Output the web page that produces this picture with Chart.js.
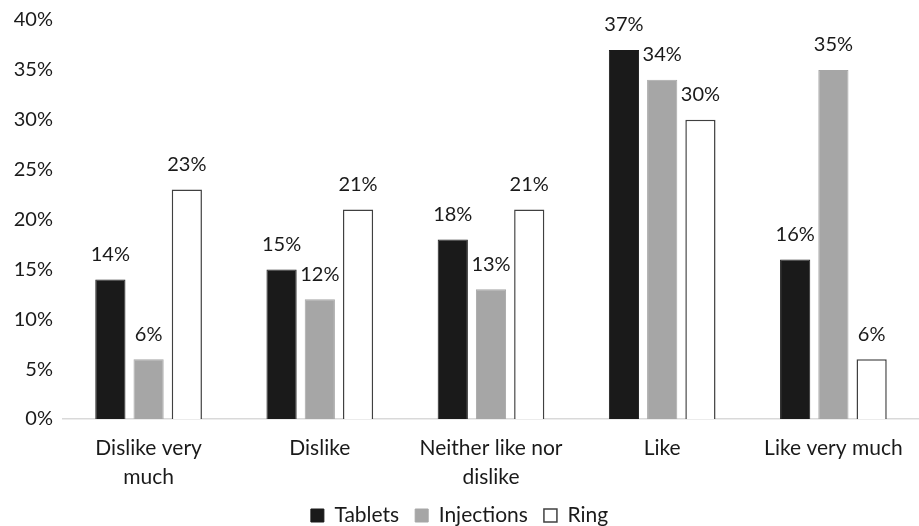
<!DOCTYPE html>
<html>
<head>
<meta charset="utf-8">
<script src="https://cdn.jsdelivr.net/npm/chart.js@4/dist/chart.umd.min.js"></script>
<style>
  html, body { margin: 0; padding: 0; background: #fff; }
  #wrap { width: 919px; height: 526px; position: relative; }
</style>
</head>
<body>
<div id="wrap"><canvas id="LikeChart"></canvas></div>
<script>
const categories = [['Dislike very', 'much'], 'Dislike', ['Neither like nor', 'dislike'], 'Like', 'Like very much'];
const tablets = [14, 15, 18, 37, 16];
const injections = [6, 12, 13, 34, 35];
const ring = [23, 21, 21, 30, 6];

Chart.defaults.font.family = 'Lato, "Noto Sans", sans-serif';
Chart.defaults.font.size = 20;
Chart.defaults.color = '#1a1a1a';

// draw the % above each bar
const valueLabels = {
    id: 'valueLabels',
    afterDatasetsDraw(chart) {
        const ctx = chart.ctx;
        ctx.save();
        ctx.font = '20px Lato, "Noto Sans", sans-serif';
        ctx.fillStyle = '#1a1a1a';
        ctx.textAlign = 'center';
        ctx.textBaseline = 'middle';
        chart.data.datasets.forEach((ds, i) => {
            chart.getDatasetMeta(i).data.forEach((bar, j) => {
                ctx.fillText(ds.data[j] + '%', bar.x, bar.y - 25);
            });
        });
        ctx.restore();
    }
};

// pull the legend row up closer to the axis labels
const legendNudge = {
    id: 'legendNudge',
    afterLayout(chart) {
        if (chart.legend) {
            chart.legend.top -= 10;
            chart.legend.bottom -= 10;
        }
    }
};

const bar_data = {
    labels: categories,
    datasets: [
        {
            label: 'Tablets',
            data: tablets,
            backgroundColor: '#1a1a1a',
            borderColor: '#1a1a1a',
            borderWidth: 1
        },
        {
            label: 'Injections',
            data: injections,
            backgroundColor: '#a6a6a6',
            borderColor: '#a6a6a6',
            borderWidth: 1
        },
        {
            label: 'Ring',
            data: ring,
            backgroundColor: '#ffffff',
            borderColor: '#404040',
            borderWidth: 1.5
        }
    ]
};

const bar_config = {
    type: 'bar',
    data: bar_data,
    plugins: [valueLabels, legendNudge],
    options: {
        responsive: true,
        maintainAspectRatio: false,
        animation: false,
        categoryPercentage: 0.67,
        barPercentage: 0.79,
        layout: {
            padding: { top: 20, right: 0, left: 0, bottom: -20 }
        },
        scales: {
            x: {
                grid: { display: false },
                border: { display: true, color: '#d9d9d9', width: 1.5 },
                ticks: {
                    padding: 7,
                    maxRotation: 0,
                    autoSkip: false,
                    font: { size: 21, lineHeight: 1.38 }
                }
            },
            y: {
                min: 0,
                max: 40,
                grid: { display: false },
                border: { display: false },
                afterFit: s => { s.width = 63; },
                ticks: {
                    stepSize: 5,
                    padding: 2,
                    callback: v => v + '%'
                }
            }
        },
        plugins: {
            legend: {
                position: 'bottom',
                labels: {
                    boxWidth: 13,
                    boxHeight: 13,
                    padding: 16,
                    font: { size: 21 }
                }
            },
            tooltip: { enabled: false }
        }
    }
};

new Chart(document.getElementById('LikeChart'), bar_config);
</script>
</body>
</html>
